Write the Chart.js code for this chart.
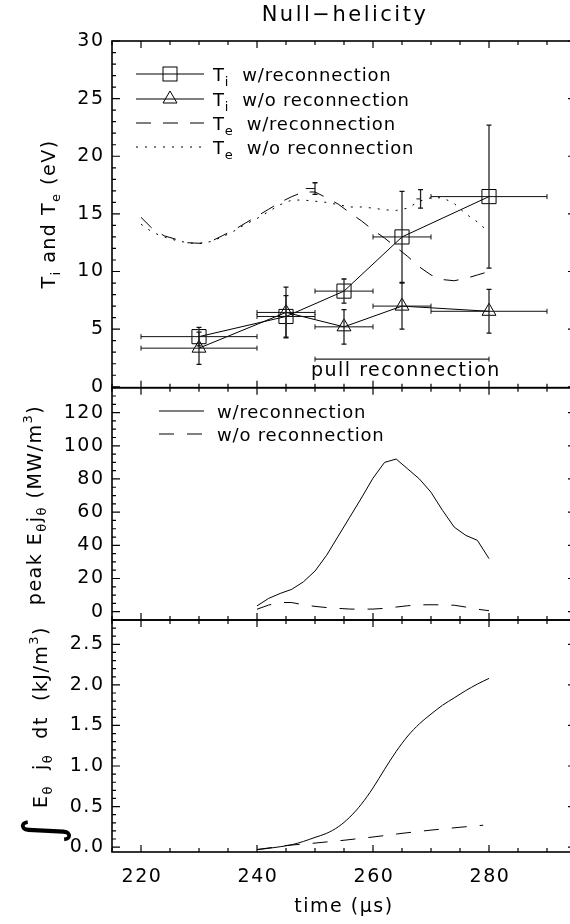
<!DOCTYPE html>
<html>
<head>
<meta charset="utf-8">
<script src="https://cdn.jsdelivr.net/npm/chart.js@4/dist/chart.umd.min.js"></script>
<style>
  html, body { margin: 0; padding: 0; background: #fff; overflow: hidden; }
  #wrap { position: relative; width: 570px; height: 924px; overflow: hidden; }
  #wrap canvas { position: absolute; left: 0; top: 0; }
</style>
</head>
<body>
<div id="wrap">
  <canvas id="c1" width="600" height="924"></canvas>
  <canvas id="c2" width="600" height="924"></canvas>
  <canvas id="c3" width="600" height="924"></canvas>
</div>
<script>
// ---- data ----
const X_MIN = 215, X_MAX = 295;
const X_TICKS = [220, 240, 260, 280];

// panel 1: ion / electron temperature (eV)
const T_TICKS = [0, 5, 10, 15, 20, 25, 30];
const TI_TIME = [230, 245, 255, 265, 280];
const TI_TIME_ERR = [10, 5, 5, 5, 10];
const TI_REC = [4.35, 6.1, 8.3, 13.0, 16.5];
const TI_REC_ERR = [0.8, 1.8, 1.05, 3.95, 6.2];
const TI_NOREC = [3.35, 6.45, 5.2, 7.0, 6.55];
const TI_NOREC_ERR = [1.4, 2.2, 1.5, 2.0, 1.9];

const TE_TIME = [220, 222, 224, 226, 228, 230, 232, 234, 236, 238, 240, 242, 244, 246, 248, 250,
                 252, 254, 256, 258, 260, 262, 264, 266, 268, 270, 272, 274, 276, 278, 280];
const TE_REC = [14.7, 13.7, 13.1, 12.8, 12.5, 12.45, 12.6, 13.1, 13.6, 14.2, 14.8, 15.4, 16.0, 16.5, 16.9, 16.9,
                16.4, 15.85, 15.1, 14.4, 13.6, 12.9, 12.1, 11.3, 10.4, 9.7, 9.3, 9.2, 9.4, 9.7, 10.0];
const TE_NOREC = [14.1, 13.4, 13.0, 12.7, 12.5, 12.4, 12.6, 13.0, 13.5, 14.1, 14.6, 15.2, 15.8, 16.2, 16.2, 16.1,
                  16.0, 15.8, 15.6, 15.6, 15.5, 15.35, 15.3, 15.5, 16.1, 16.4, 16.4, 15.9, 15.0, 14.3, 13.4];
const TE_BAR_TIME = [250, 268.2];
const TE_BAR_VAL = [17.2, 16.3];
const TE_BAR_ERR = [0.5, 0.8];
const TE_BAR_LEFT = [1.6, 0.7];

const PULL_START = 250, PULL_END = 280, PULL_LEVEL = 2.4;

// panel 2: peak E_theta j_theta (MW/m^3)
const P_TICKS = [0, 20, 40, 60, 80, 100, 120];
const P_TIME = [240, 242, 244, 246, 248, 250, 252, 254, 256, 258, 260,
                262, 264, 266, 268, 270, 272, 274, 276, 278, 280];
const P_REC = [3.5, 8.0, 11.0, 13.5, 18.0, 24.5, 34.0, 45.5, 57.0, 68.5, 80.5,
               90.0, 92.0, 86.0, 80.0, 72.0, 61.0, 51.0, 46.0, 43.0, 32.0];
const P_NOREC = [1.5, 4.0, 5.6, 5.5, 4.2, 3.2, 2.5, 2.0, 1.6, 1.5, 1.6,
                 2.0, 2.8, 3.6, 4.1, 4.2, 4.1, 3.9, 2.8, 1.5, 0.6];

// panel 3: integrated E_theta j_theta (kJ/m^3)
const W_TICKS = [0, 0.5, 1.0, 1.5, 2.0, 2.5];
const W_TIME = [240, 242, 244, 246, 248, 250, 252, 254, 256, 258, 260,
                262, 264, 266, 268, 270, 272, 274, 276, 278, 280];
const W_REC = [-0.03, -0.015, 0.005, 0.03, 0.07, 0.12, 0.17, 0.25, 0.37, 0.53, 0.73,
               0.96, 1.18, 1.37, 1.52, 1.64, 1.75, 1.84, 1.93, 2.01, 2.08];
const W_NOREC_TIME = [240, 245, 250, 255, 260, 265, 270, 275, 279];
const W_NOREC = [-0.03, 0.02, 0.05, 0.085, 0.125, 0.17, 0.21, 0.245, 0.27];

// ---- helpers ----
const FONT = '"DejaVu Sans", sans-serif';
const FS = 19;
const SPACING = 1.5;

function pts(xs, ys) { return xs.map((x, i) => ({x: x, y: ys[i]})); }

function setFont(ctx, size, spacing) {
  ctx.font = size + 'px ' + FONT;
  ctx.letterSpacing = (spacing === undefined ? SPACING : spacing) + 'px';
}

// parts: [text, kind] where kind is '', 'sub' or 'sup'
function drawRich(ctx, parts, x, y, align, size, spacing) {
  size = size || FS;
  const sz = k => (k ? Math.round(size * 0.7) : size);
  let total = 0;
  parts.forEach(([t, k]) => { setFont(ctx, sz(k), spacing); total += ctx.measureText(t).width; });
  let cx = align === 'center' ? x - total / 2 : x;
  ctx.textAlign = 'left';
  ctx.textBaseline = 'alphabetic';
  parts.forEach(([t, k]) => {
    setFont(ctx, sz(k), spacing);
    const dy = k === 'sub' ? 5 : (k === 'sup' ? -9 : 0);
    ctx.fillText(t, cx, y + dy);
    cx += ctx.measureText(t).width;
  });
}

function steps(min, max, step) {
  const out = [];
  for (let k = Math.ceil(min / step - 1e-9); k * step <= max + 1e-9; k++) out.push(+(k * step).toFixed(6));
  return out;
}

function errorBars(xs, ys, xerr, yerr, label) {
  const sets = [];
  xs.forEach((x, i) => {
    if (xerr) sets.push({
      label: label, data: [{x: x - xerr[i], y: ys[i]}, {x: x + xerr[i], y: ys[i]}],
      borderColor: '#111', borderWidth: 1, pointStyle: 'line', pointRotation: 90,
      pointRadius: 2.5, pointBorderColor: '#111', pointBorderWidth: 1
    });
    if (yerr) sets.push({
      label: label, data: [{x: x, y: ys[i] - yerr[i]}, {x: x, y: ys[i] + yerr[i]}],
      borderColor: '#222', borderWidth: 1.3, pointStyle: 'line', pointRotation: 0,
      pointRadius: 2.5, pointBorderColor: '#111', pointBorderWidth: 1.3
    });
  });
  return sets;
}

// frame, inward ticks, labels and titles in the IDL style
const idlPlugin = {
  id: 'idl',
  afterDraw(chart, args, cfg) {
    const ctx = chart.ctx, a = chart.chartArea;
    const xs = chart.scales.x, ys = chart.scales.y;
    ctx.save();
    ctx.strokeStyle = '#000';
    ctx.fillStyle = '#000';
    ctx.lineWidth = 1.6;
    ctx.strokeRect(a.left, a.top, a.right - a.left, a.bottom - a.top);
    ctx.lineWidth = 1.2;
    ctx.beginPath();
    steps(X_MIN, X_MAX, 5).forEach(v => {
      const p = xs.getPixelForValue(v);
      const len = X_TICKS.includes(v) ? 7 : 4;
      ctx.moveTo(p, a.bottom); ctx.lineTo(p, a.bottom - len);
      ctx.moveTo(p, a.top); ctx.lineTo(p, a.top + len);
    });
    steps(ys.min, ys.max, cfg.minor).forEach(v => {
      const p = ys.getPixelForValue(v);
      const len = cfg.major.some(m => Math.abs(m - v) < 1e-6) ? 8 : 4;
      ctx.moveTo(a.left, p); ctx.lineTo(a.left + len, p);
      ctx.moveTo(a.right, p); ctx.lineTo(a.right - len, p);
    });
    ctx.stroke();

    setFont(ctx, FS);
    ctx.textAlign = 'right';
    ctx.textBaseline = 'middle';
    cfg.major.forEach(v => ctx.fillText(cfg.fmt(v), a.left - 7.5, ys.getPixelForValue(v)));

    if (cfg.xLabels) {
      ctx.textAlign = 'center';
      X_TICKS.forEach(v => ctx.fillText(String(v), xs.getPixelForValue(v) + 1, a.bottom + 25));
      drawRich(ctx, [['time (', ''], ['\u03bc', ''], ['s)', '']], 344, 912, 'center');
    }

    ctx.save();
    ctx.translate(cfg.titleX, cfg.titleY);
    ctx.rotate(-Math.PI / 2);
    drawRich(ctx, cfg.title, 0, 0, 'center');
    ctx.restore();

    if (cfg.extra) cfg.extra(chart, ctx);
    ctx.restore();
  }
};

function options(pad, yMin, yMax, cfg) {
  return {
    responsive: false,
    animation: false,
    devicePixelRatio: 1,
    layout: {padding: pad},
    plugins: {legend: {display: false}, tooltip: {enabled: false}, idl: cfg},
    scales: {
      x: {type: 'linear', min: X_MIN, max: X_MAX, display: false},
      y: {type: 'linear', min: yMin, max: yMax, display: false}
    },
    elements: {
      line: {borderWidth: 1, borderColor: '#000', tension: 0, fill: false},
      point: {radius: 0}
    }
  };
}

function legendLine(ctx, x0, x1, y, dash) {
  ctx.save();
  ctx.lineWidth = 1;
  ctx.setLineDash(dash);
  ctx.beginPath(); ctx.moveTo(x0, y); ctx.lineTo(x1, y); ctx.stroke();
  ctx.restore();
}

const LEG_FS = 18, LEG_SP = 0.8;

// ---- panel 1 ----
const panel1 = {
  type: 'line',
  data: {
    datasets: [
      {label: 'Te w/reconnection', data: pts(TE_TIME, TE_REC), borderDash: [15, 12]},
      {label: 'Te w/o reconnection', data: pts(TE_TIME, TE_NOREC), borderDash: [2, 7]},
      ...errorBars(TI_TIME, TI_REC, TI_TIME_ERR, TI_REC_ERR, 'err'),
      ...errorBars(TI_TIME, TI_NOREC, TI_TIME_ERR, TI_NOREC_ERR, 'err'),
      ...errorBars(TE_BAR_TIME, TE_BAR_VAL, null, TE_BAR_ERR, 'err'),
      ...TE_BAR_TIME.map((x, i) => ({
        label: 'err', data: [{x: x - TE_BAR_LEFT[i], y: TE_BAR_VAL[i]}, {x: x, y: TE_BAR_VAL[i]}],
        borderColor: '#111', borderWidth: 1
      })),
      {label: 'pull', data: [{x: PULL_START, y: PULL_LEVEL}, {x: PULL_END, y: PULL_LEVEL}],
       borderColor: '#222', borderWidth: 1.3, pointStyle: 'line', pointRotation: 90, pointRadius: 2.5,
       pointBorderColor: '#111', pointBorderWidth: 1},
      {label: 'Ti w/reconnection', data: pts(TI_TIME, TI_REC), pointStyle: 'rect', pointRadius: 10,
       pointBorderColor: '#000', pointBackgroundColor: 'rgba(0,0,0,0)', pointBorderWidth: 1},
      {label: 'Ti w/o reconnection', data: pts(TI_TIME, TI_NOREC), pointStyle: 'triangle', pointRadius: 8,
       pointBorderColor: '#000', pointBackgroundColor: 'rgba(0,0,0,0)', pointBorderWidth: 1}
    ]
  },
  options: options({left: 112, right: 24, top: 41, bottom: 924 - 387.7}, -0.08, 30, {
    major: T_TICKS, minor: 1, fmt: v => String(v),
    titleX: 55, titleY: 214,
    title: [['T', ''], ['i', 'sub'], [' and T', ''], ['e', 'sub'], [' (eV)', '']],
    extra(chart, ctx) {
      ctx.fillStyle = '#000';
      ctx.strokeStyle = '#000';
      const rows = [74, 99, 123, 147];
      legendLine(ctx, 136, 204, rows[0], []);
      ctx.lineWidth = 1;
      ctx.strokeRect(170 - 7, rows[0] - 7, 14, 14);
      legendLine(ctx, 136, 204, rows[1], []);
      ctx.beginPath();
      ctx.moveTo(170, rows[1] - 8); ctx.lineTo(177, rows[1] + 4); ctx.lineTo(163, rows[1] + 4); ctx.closePath();
      ctx.stroke();
      legendLine(ctx, 136, 204, rows[2], [15, 12]);
      legendLine(ctx, 136, 204, rows[3], [2, 7]);
      drawRich(ctx, [['T', ''], ['i', 'sub'], ['  w/reconnection', '']], 213, rows[0] + 7, 'left', LEG_FS, LEG_SP);
      drawRich(ctx, [['T', ''], ['i', 'sub'], ['  w/o reconnection', '']], 213, rows[1] + 7, 'left', LEG_FS, LEG_SP);
      drawRich(ctx, [['T', ''], ['e', 'sub'], ['  w/reconnection', '']], 213, rows[2] + 7, 'left', LEG_FS, LEG_SP);
      drawRich(ctx, [['T', ''], ['e', 'sub'], ['  w/o reconnection', '']], 213, rows[3] + 7, 'left', LEG_FS, LEG_SP);
      const xs = chart.scales.x, ys = chart.scales.y;
      drawRich(ctx, [['pull reconnection', '']], xs.getPixelForValue(249.3), ys.getPixelForValue(PULL_LEVEL) + 17);
    }
  }),
  plugins: [idlPlugin]
};

// ---- panel 2 ----
const panel2 = {
  type: 'line',
  data: {
    datasets: [
      {label: 'w/reconnection', data: pts(P_TIME, P_REC)},
      {label: 'w/o reconnection', data: pts(P_TIME, P_NOREC), borderDash: [15, 13]}
    ]
  },
  options: options({left: 112, right: 24, top: 387.7, bottom: 924 - 620}, -5, 135, {
    major: P_TICKS, minor: 5, fmt: v => String(v),
    titleX: 41, titleY: 505,
    title: [['peak E', ''], ['\u03b8', 'sub'], ['j', ''], ['\u03b8', 'sub'], [' (MW/m', ''], ['3', 'sup'], [')', '']],
    extra(chart, ctx) {
      ctx.fillStyle = '#000';
      ctx.strokeStyle = '#000';
      legendLine(ctx, 159, 204, 411, []);
      legendLine(ctx, 159, 204, 434, [15, 13]);
      drawRich(ctx, [['w/reconnection', '']], 217, 418, 'left', LEG_FS, LEG_SP);
      drawRich(ctx, [['w/o reconnection', '']], 217, 441, 'left', LEG_FS, LEG_SP);
    }
  }),
  plugins: [idlPlugin]
};

// ---- panel 3 ----
const panel3 = {
  type: 'line',
  data: {
    datasets: [
      {label: 'w/reconnection', data: pts(W_TIME, W_REC), cubicInterpolationMode: 'monotone'},
      {label: 'w/o reconnection', data: pts(W_NOREC_TIME, W_NOREC), borderDash: [15, 13]}
    ]
  },
  options: options({left: 112, right: 24, top: 620, bottom: 924 - 852}, -0.06, 2.8, {
    major: W_TICKS, minor: 0.1, fmt: v => v.toFixed(1), xLabels: true,
    titleX: 47, titleY: 717,
    title: [['E', ''], ['\u03b8', 'sub'], ['  j', ''], ['\u03b8', 'sub'], ['  dt  (kJ/m', ''], ['3', 'sup'], [')', '']],
    extra(chart, ctx) {
      ctx.save();
      ctx.translate(60, 831);
      ctx.rotate(-Math.PI / 2);
      ctx.font = '52px ' + FONT;
      ctx.letterSpacing = '0px';
      ctx.textAlign = 'center';
      ctx.textBaseline = 'alphabetic';
      ctx.fillText('\u222b', 0, 0);
      ctx.restore();
    }
  }),
  plugins: [idlPlugin]
};

new Chart(document.getElementById('c1'), panel1);
new Chart(document.getElementById('c2'), panel2);
new Chart(document.getElementById('c3'), panel3);

// title
const tctx = document.getElementById('c1').getContext('2d');
tctx.save();
tctx.font = '21px ' + FONT;
tctx.letterSpacing = '2.5px';
tctx.textAlign = 'center';
tctx.textBaseline = 'middle';
tctx.fillStyle = '#000';
tctx.fillText('Null\u2212helicity', 345, 16);
tctx.restore();
</script>
</body>
</html>
